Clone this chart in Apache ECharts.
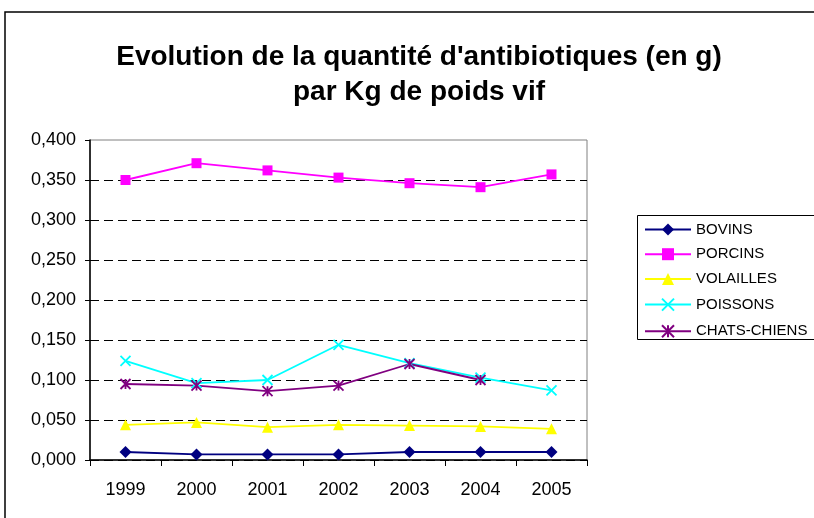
<!DOCTYPE html>
<html>
<head>
<meta charset="utf-8">
<script src="https://cdn.jsdelivr.net/npm/echarts@6/dist/echarts.min.js"></script>
<style>
  html, body { margin: 0; padding: 0; background: #fff; }
  #main { width: 814px; height: 518px; }
</style>
</head>
<body>
<div id="main"></div>
<script>
var years = ['1999', '2000', '2001', '2002', '2003', '2004', '2005'];
var bovins = [0.010, 0.007, 0.007, 0.007, 0.010, 0.010, 0.010];
var porcins = [0.350, 0.371, 0.362, 0.353, 0.346, 0.341, 0.357];
var volailles = [0.044, 0.047, 0.041, 0.044, 0.043, 0.042, 0.039];
var poissons = [0.124, 0.096, 0.100, 0.144, 0.121, 0.103, 0.087];
var chatsChiens = [0.095, 0.093, 0.086, 0.093, 0.120, 0.100, null];

var crossPath = 'path://M0,0L10,10M10,0L0,10';
var starPath = 'path://M0,0L10,10M10,0L0,10M5,0L5,10';

function serie(name, data, color, symbol, size, stroked) {
  return {
    name: name,
    type: 'line',
    data: data,
    symbol: symbol,
    symbolSize: size,
    showAllSymbol: true,
    connectNulls: false,
    lineStyle: { color: color, width: 1.8 },
    itemStyle: stroked
      ? { color: 'none', borderColor: color, borderWidth: 1.8 }
      : { color: color, borderWidth: 0 },
    emphasis: { disabled: true }
  };
}

var myChart = echarts.init(document.getElementById('main'));
var option = {
  animation: false,
  backgroundColor: '#fff',
  textStyle: { fontFamily: 'Liberation Sans, Arial, sans-serif' },
  title: {
    text: "Evolution de la quantité d'antibiotiques (en g)\npar Kg de poids vif",
    left: 414,
    top: 35,
    textAlign: 'center',
    textStyle: {
      fontFamily: 'Liberation Sans, Arial, sans-serif',
      fontSize: 28,
      fontWeight: 'bold',
      color: '#000',
      lineHeight: 35
    }
  },
  graphic: [
    {
      type: 'rect',
      shape: { x: 5, y: 12, width: 900, height: 600 },
      style: { fill: 'none', stroke: '#000', lineWidth: 1.5 },
      z: 100
    },
    {
      type: 'rect',
      shape: { x: 637.5, y: 215.5, width: 300, height: 124 },
      style: { fill: '#fff', stroke: '#000', lineWidth: 1 },
      z: 1
    }
  ],
  legend: {
    orient: 'vertical',
    left: 644,
    top: 222,
    padding: 0,
    itemWidth: 46,
    itemHeight: 15,
    itemGap: 9.7,
    z: 5,
    textStyle: { fontSize: 15, color: '#000', fontFamily: 'Liberation Sans, Arial, sans-serif' },
    data: ['BOVINS', 'PORCINS', 'VOLAILLES', 'POISSONS', 'CHATS-CHIENS']
  },
  grid: {
    left: 90,
    right: 227,
    top: 140,
    bottom: 58,
    show: true,
    borderColor: '#808080',
    borderWidth: 1
  },
  xAxis: {
    type: 'category',
    data: years,
    boundaryGap: true,
    axisLine: { lineStyle: { color: '#000', width: 1.5 } },
    axisTick: { show: true, length: 6, inside: false, lineStyle: { color: '#000' } },
    axisLabel: { fontSize: 18, color: '#000', margin: 21 },
    splitLine: { show: false }
  },
  yAxis: {
    type: 'value',
    min: 0,
    max: 0.4,
    interval: 0.05,
    axisLine: { show: true, lineStyle: { color: '#000', width: 1.5 } },
    axisTick: { show: true, length: 5, lineStyle: { color: '#000' } },
    axisLabel: {
      fontSize: 18,
      color: '#000',
      margin: 14,
      formatter: function (v) { return v.toFixed(3).replace('.', ','); }
    },
    splitLine: { show: true, showMaxLine: false, lineStyle: { color: '#000', type: [9, 5], width: 1 } }
  },
  series: [
    serie('BOVINS', bovins, '#000080', 'diamond', 12, false),
    serie('PORCINS', porcins, '#FF00FF', 'rect', 10, false),
    serie('VOLAILLES', volailles, '#FFFF00', 'triangle', 11, false),
    serie('POISSONS', poissons, '#00FFFF', crossPath, 10, true),
    serie('CHATS-CHIENS', chatsChiens, '#800080', starPath, 10, true)
  ]
};

myChart.setOption(option);
</script>
</body>
</html>
